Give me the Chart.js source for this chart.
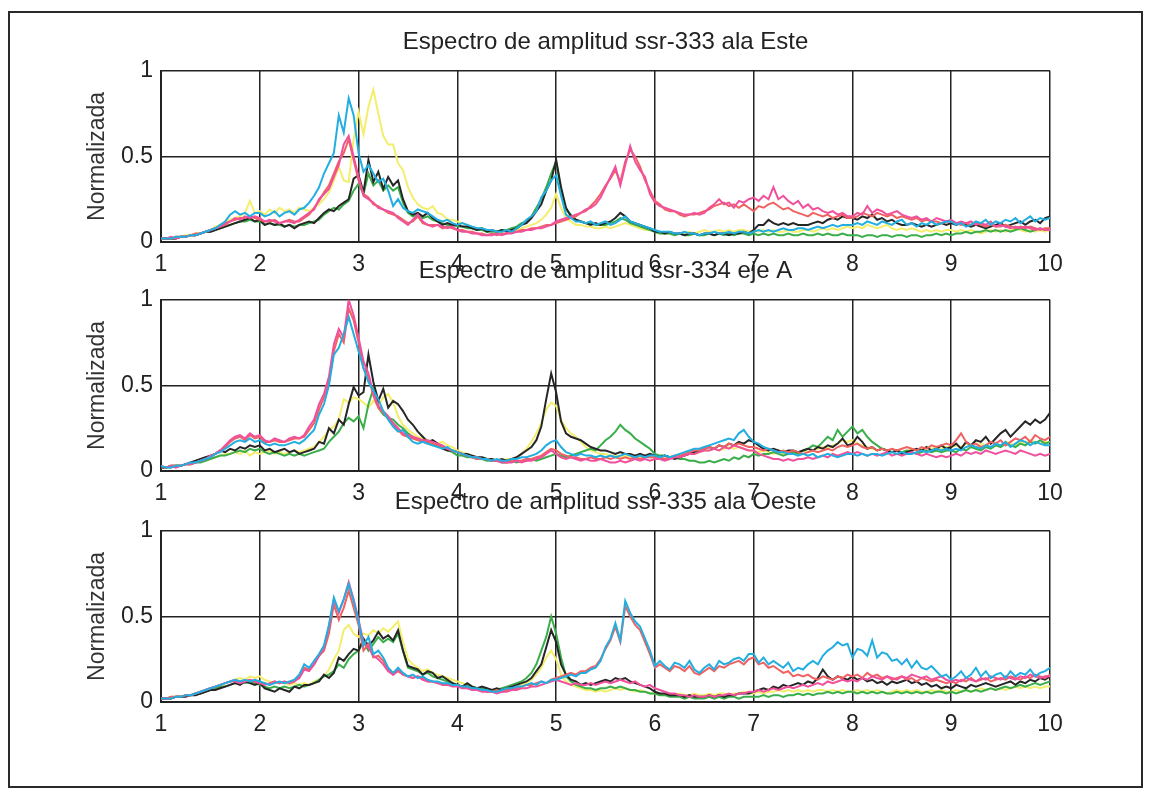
<!DOCTYPE html>
<html>
<head>
<meta charset="utf-8">
<script src="https://cdn.jsdelivr.net/npm/chart.js@4.4.1/dist/chart.umd.min.js"></script>
<style>
  html, body { margin: 0; padding: 0; background: #fff; }
  body { width: 1151px; height: 788px; position: relative; overflow: hidden; }
  #marco { position: absolute; left: 8px; top: 11px; width: 1135px; height: 777px; border: 2px solid #2a2a2a; box-sizing: border-box; }
  .panel { position: absolute; left: 0; }
</style>
</head>
<body>
<div id="marco"></div>
<canvas id="g1" class="panel" width="1151" height="254" style="top:28px"></canvas>
<canvas id="g2" class="panel" width="1151" height="254" style="top:257px"></canvas>
<canvas id="g3" class="panel" width="1151" height="254" style="top:488px"></canvas>
<script>
// frecuencias (Hz), de 1 a 10 cada 0.05
const freq = Array.from({ length: 181 }, (_, i) => Math.round((1 + i * 0.05) * 100) / 100);
const xTicks = [1, 2, 3, 4, 5, 6, 7, 8, 9, 10];
const yTicks = [0, 0.5, 1];

const titulos = [
  "Espectro de amplitud ssr-333 ala Este",
  "Espectro de amplitud ssr-334 eje A",
  "Espectro de amplitud ssr-335 ala Oeste",
];

// ---- ssr-333 ala Este ----
const p1Cyan = [
  0.02,0.02,0.02,0.03,0.03,0.03,0.04,0.04,0.05,0.06,0.07,0.08,0.10,0.12,0.16,0.18,0.16,0.17,0.15,0.17,
  0.17,0.15,0.16,0.18,0.15,0.17,0.18,0.16,0.19,0.20,0.23,0.27,0.32,0.40,0.46,0.52,0.74,0.64,0.84,0.74,
  0.52,0.41,0.45,0.40,0.35,0.37,0.30,0.21,0.25,0.20,0.18,0.17,0.19,0.18,0.17,0.15,0.13,0.12,0.13,0.11,
  0.10,0.11,0.10,0.09,0.08,0.08,0.07,0.07,0.06,0.06,0.07,0.06,0.08,0.10,0.13,0.15,0.18,0.26,0.30,0.36,
  0.39,0.27,0.16,0.14,0.12,0.12,0.11,0.12,0.10,0.11,0.12,0.10,0.11,0.13,0.15,0.12,0.11,0.10,0.09,0.08,
  0.07,0.06,0.06,0.06,0.05,0.05,0.06,0.05,0.05,0.04,0.05,0.05,0.06,0.05,0.05,0.06,0.05,0.06,0.06,0.05,
  0.06,0.07,0.06,0.07,0.06,0.07,0.08,0.07,0.07,0.08,0.08,0.07,0.08,0.09,0.08,0.09,0.10,0.09,0.10,0.10,
  0.10,0.11,0.10,0.12,0.11,0.10,0.12,0.11,0.10,0.12,0.13,0.10,0.11,0.09,0.11,0.10,0.12,0.10,0.11,0.12,
  0.12,0.10,0.11,0.09,0.10,0.12,0.11,0.13,0.10,0.12,0.11,0.13,0.12,0.14,0.11,0.13,0.15,0.12,0.14,0.13,
  0.14
];
const p1Pink = [
  0.02,0.02,0.03,0.02,0.03,0.03,0.04,0.04,0.05,0.06,0.07,0.08,0.09,0.11,0.12,0.14,0.13,0.15,0.14,0.15,
  0.14,0.12,0.13,0.12,0.11,0.12,0.12,0.11,0.13,0.15,0.17,0.19,0.25,0.28,0.31,0.38,0.45,0.57,0.62,0.50,
  0.38,0.27,0.25,0.23,0.20,0.19,0.18,0.17,0.14,0.12,0.10,0.13,0.16,0.12,0.10,0.09,0.10,0.09,0.08,0.09,
  0.07,0.06,0.06,0.05,0.05,0.04,0.04,0.04,0.05,0.04,0.05,0.05,0.06,0.06,0.07,0.07,0.08,0.08,0.09,0.10,
  0.12,0.13,0.14,0.15,0.16,0.17,0.19,0.20,0.22,0.26,0.32,0.38,0.44,0.33,0.45,0.56,0.47,0.42,0.38,0.28,
  0.23,0.21,0.20,0.19,0.18,0.17,0.16,0.16,0.17,0.16,0.17,0.20,0.22,0.25,0.22,0.23,0.20,0.24,0.23,0.25,
  0.26,0.24,0.27,0.25,0.32,0.25,0.27,0.24,0.22,0.24,0.20,0.22,0.19,0.20,0.18,0.17,0.18,0.16,0.17,0.15,
  0.15,0.17,0.16,0.21,0.17,0.19,0.18,0.16,0.17,0.18,0.16,0.15,0.14,0.15,0.13,0.14,0.12,0.14,0.13,0.12,
  0.13,0.11,0.12,0.11,0.12,0.10,0.11,0.10,0.12,0.09,0.10,0.09,0.08,0.09,0.08,0.09,0.08,0.07,0.08,0.07,
  0.07
];
const p1Red = [
  0.02,0.02,0.02,0.03,0.03,0.03,0.04,0.05,0.05,0.06,0.07,0.08,0.09,0.10,0.12,0.13,0.14,0.14,0.15,0.14,
  0.13,0.12,0.12,0.13,0.11,0.12,0.13,0.12,0.12,0.14,0.16,0.20,0.24,0.29,0.33,0.40,0.47,0.52,0.60,0.48,
  0.36,0.28,0.26,0.22,0.21,0.19,0.17,0.16,0.15,0.13,0.11,0.12,0.15,0.11,0.10,0.10,0.10,0.08,0.09,0.08,
  0.07,0.07,0.06,0.06,0.05,0.05,0.04,0.05,0.04,0.05,0.05,0.06,0.06,0.07,0.07,0.08,0.08,0.09,0.10,0.10,
  0.11,0.12,0.13,0.14,0.15,0.17,0.18,0.21,0.24,0.28,0.33,0.37,0.42,0.35,0.47,0.54,0.50,0.44,0.36,0.30,
  0.24,0.22,0.19,0.18,0.18,0.16,0.15,0.16,0.16,0.17,0.18,0.19,0.21,0.22,0.23,0.21,0.22,0.20,0.22,0.20,
  0.18,0.21,0.20,0.22,0.23,0.21,0.19,0.20,0.18,0.17,0.16,0.15,0.17,0.16,0.15,0.16,0.14,0.15,0.16,0.14,
  0.14,0.15,0.17,0.16,0.15,0.17,0.16,0.15,0.16,0.14,0.15,0.14,0.13,0.14,0.12,0.13,0.12,0.12,0.11,0.12,
  0.12,0.11,0.10,0.11,0.10,0.11,0.10,0.09,0.10,0.09,0.09,0.10,0.09,0.08,0.09,0.08,0.09,0.08,0.07,0.08,
  0.08
];
const p1Black = [
  0.02,0.02,0.02,0.02,0.03,0.03,0.04,0.04,0.05,0.06,0.06,0.07,0.08,0.09,0.10,0.11,0.12,0.13,0.14,0.12,
  0.13,0.10,0.11,0.10,0.11,0.09,0.10,0.08,0.10,0.11,0.12,0.11,0.14,0.17,0.19,0.18,0.21,0.23,0.25,0.37,
  0.39,0.29,0.48,0.35,0.41,0.31,0.38,0.33,0.36,0.25,0.18,0.16,0.17,0.15,0.17,0.14,0.12,0.10,0.11,0.10,
  0.10,0.09,0.09,0.08,0.07,0.08,0.06,0.07,0.06,0.07,0.06,0.07,0.08,0.10,0.11,0.14,0.18,0.22,0.30,0.36,
  0.48,0.32,0.20,0.15,0.13,0.12,0.11,0.10,0.11,0.10,0.11,0.12,0.14,0.17,0.15,0.12,0.11,0.10,0.09,0.08,
  0.06,0.06,0.05,0.06,0.05,0.05,0.04,0.05,0.05,0.04,0.05,0.05,0.04,0.05,0.05,0.04,0.05,0.05,0.06,0.05,
  0.07,0.10,0.10,0.13,0.11,0.10,0.11,0.10,0.11,0.10,0.10,0.10,0.11,0.12,0.11,0.13,0.14,0.13,0.15,0.14,
  0.14,0.13,0.15,0.14,0.16,0.13,0.14,0.12,0.13,0.11,0.10,0.10,0.11,0.10,0.09,0.10,0.09,0.10,0.11,0.10,
  0.11,0.10,0.11,0.10,0.09,0.10,0.09,0.08,0.09,0.10,0.11,0.09,0.10,0.11,0.12,0.10,0.12,0.13,0.11,0.14,
  0.15
];
const p1Green = [
  0.02,0.02,0.02,0.02,0.03,0.03,0.04,0.04,0.05,0.06,0.06,0.07,0.08,0.09,0.10,0.11,0.12,0.12,0.13,0.12,
  0.12,0.10,0.11,0.10,0.10,0.09,0.10,0.09,0.10,0.10,0.11,0.12,0.13,0.16,0.18,0.20,0.19,0.22,0.24,0.30,
  0.34,0.28,0.40,0.33,0.36,0.30,0.33,0.30,0.32,0.23,0.17,0.15,0.16,0.14,0.15,0.13,0.12,0.11,0.10,0.10,
  0.09,0.09,0.08,0.08,0.07,0.07,0.06,0.06,0.06,0.07,0.07,0.08,0.09,0.11,0.12,0.15,0.20,0.25,0.32,0.40,
  0.47,0.30,0.19,0.16,0.13,0.12,0.11,0.11,0.10,0.10,0.10,0.11,0.12,0.14,0.13,0.11,0.10,0.09,0.08,0.07,
  0.06,0.05,0.05,0.05,0.04,0.05,0.04,0.04,0.05,0.04,0.04,0.05,0.04,0.05,0.04,0.05,0.04,0.05,0.05,0.04,
  0.05,0.04,0.05,0.04,0.05,0.04,0.04,0.05,0.04,0.04,0.05,0.04,0.04,0.05,0.04,0.05,0.04,0.04,0.05,0.04,
  0.04,0.04,0.03,0.04,0.04,0.03,0.04,0.04,0.03,0.04,0.04,0.03,0.04,0.04,0.03,0.04,0.04,0.05,0.04,0.05,
  0.04,0.05,0.05,0.06,0.05,0.06,0.06,0.07,0.06,0.07,0.06,0.07,0.06,0.07,0.08,0.07,0.06,0.07,0.08,0.07,
  0.08
];
const p1Yellow = [
  0.02,0.02,0.02,0.03,0.03,0.04,0.04,0.05,0.05,0.06,0.07,0.09,0.10,0.12,0.13,0.14,0.15,0.17,0.24,0.17,
  0.18,0.16,0.19,0.17,0.20,0.18,0.19,0.17,0.20,0.19,0.18,0.20,0.22,0.25,0.29,0.36,0.44,0.36,0.35,0.60,
  0.76,0.63,0.79,0.89,0.75,0.62,0.57,0.57,0.46,0.42,0.32,0.26,0.22,0.20,0.19,0.21,0.17,0.16,0.13,0.13,
  0.12,0.11,0.10,0.09,0.08,0.08,0.07,0.07,0.06,0.06,0.07,0.06,0.07,0.08,0.09,0.10,0.11,0.13,0.16,0.20,
  0.28,0.20,0.14,0.12,0.10,0.10,0.09,0.09,0.08,0.08,0.09,0.08,0.09,0.10,0.11,0.10,0.09,0.08,0.07,0.07,
  0.06,0.05,0.05,0.05,0.04,0.05,0.05,0.06,0.05,0.06,0.07,0.06,0.06,0.07,0.06,0.07,0.06,0.07,0.07,0.06,
  0.07,0.06,0.07,0.06,0.07,0.06,0.06,0.07,0.06,0.06,0.07,0.07,0.06,0.07,0.08,0.07,0.08,0.07,0.08,0.09,
  0.08,0.09,0.08,0.10,0.09,0.08,0.09,0.10,0.08,0.07,0.08,0.07,0.08,0.07,0.06,0.07,0.06,0.07,0.06,0.07,
  0.07,0.06,0.07,0.06,0.07,0.06,0.05,0.06,0.07,0.06,0.07,0.06,0.07,0.08,0.07,0.06,0.07,0.06,0.07,0.06,
  0.07
];

// ---- ssr-334 eje A ----
const p2Cyan = [
  0.03,0.02,0.02,0.03,0.03,0.04,0.05,0.05,0.06,0.07,0.08,0.10,0.11,0.13,0.15,0.17,0.18,0.17,0.19,0.17,
  0.18,0.16,0.15,0.16,0.15,0.15,0.16,0.17,0.16,0.18,0.21,0.24,0.33,0.39,0.50,0.68,0.72,0.80,0.90,0.80,
  0.70,0.60,0.52,0.47,0.42,0.35,0.30,0.26,0.23,0.24,0.20,0.17,0.16,0.17,0.16,0.15,0.14,0.13,0.14,0.12,
  0.11,0.10,0.09,0.08,0.08,0.07,0.07,0.06,0.07,0.06,0.06,0.07,0.07,0.08,0.08,0.09,0.10,0.12,0.15,0.17,
  0.18,0.14,0.11,0.10,0.09,0.10,0.09,0.09,0.08,0.09,0.08,0.09,0.08,0.09,0.10,0.09,0.08,0.09,0.08,0.09,
  0.09,0.08,0.09,0.08,0.09,0.10,0.11,0.12,0.13,0.13,0.14,0.15,0.16,0.17,0.18,0.19,0.18,0.22,0.24,0.20,
  0.17,0.16,0.14,0.13,0.12,0.11,0.11,0.10,0.10,0.09,0.10,0.09,0.10,0.08,0.09,0.10,0.09,0.08,0.09,0.10,
  0.10,0.09,0.10,0.09,0.10,0.10,0.09,0.10,0.11,0.10,0.11,0.10,0.10,0.11,0.12,0.11,0.12,0.13,0.12,0.13,
  0.12,0.13,0.12,0.14,0.15,0.14,0.13,0.15,0.14,0.16,0.15,0.17,0.14,0.16,0.18,0.17,0.15,0.17,0.16,0.15,
  0.15
];
const p2Pink = [
  0.03,0.02,0.03,0.02,0.03,0.04,0.04,0.05,0.06,0.07,0.09,0.10,0.12,0.15,0.18,0.20,0.21,0.19,0.22,0.20,
  0.21,0.18,0.17,0.19,0.18,0.17,0.19,0.20,0.19,0.21,0.26,0.30,0.39,0.45,0.55,0.74,0.83,0.78,1.00,0.91,
  0.78,0.64,0.57,0.45,0.38,0.35,0.32,0.28,0.25,0.22,0.21,0.20,0.19,0.18,0.18,0.17,0.16,0.15,0.13,0.12,
  0.11,0.10,0.09,0.08,0.08,0.07,0.07,0.06,0.06,0.05,0.05,0.05,0.06,0.05,0.06,0.06,0.07,0.08,0.10,0.12,
  0.10,0.08,0.07,0.08,0.07,0.06,0.07,0.06,0.06,0.07,0.06,0.05,0.05,0.06,0.05,0.06,0.07,0.06,0.07,0.06,
  0.07,0.07,0.06,0.07,0.08,0.08,0.09,0.10,0.10,0.11,0.12,0.12,0.13,0.12,0.14,0.13,0.15,0.14,0.13,0.12,
  0.12,0.10,0.09,0.08,0.07,0.07,0.06,0.07,0.06,0.07,0.07,0.08,0.07,0.08,0.09,0.08,0.10,0.09,0.10,0.11,
  0.10,0.11,0.10,0.09,0.10,0.09,0.10,0.11,0.09,0.10,0.09,0.10,0.11,0.10,0.09,0.10,0.09,0.08,0.09,0.08,
  0.09,0.10,0.09,0.11,0.10,0.11,0.10,0.12,0.11,0.10,0.11,0.12,0.11,0.10,0.12,0.11,0.10,0.09,0.10,0.09,
  0.10
];
const p2Red = [
  0.03,0.02,0.03,0.03,0.03,0.04,0.04,0.05,0.06,0.07,0.08,0.10,0.12,0.14,0.17,0.19,0.20,0.18,0.21,0.19,
  0.20,0.17,0.17,0.18,0.17,0.17,0.18,0.19,0.19,0.20,0.24,0.28,0.36,0.43,0.52,0.70,0.80,0.75,0.95,0.88,
  0.75,0.60,0.55,0.44,0.37,0.34,0.31,0.27,0.24,0.21,0.20,0.19,0.18,0.18,0.17,0.16,0.15,0.14,0.13,0.12,
  0.11,0.10,0.09,0.08,0.07,0.07,0.07,0.06,0.06,0.06,0.05,0.06,0.06,0.06,0.07,0.07,0.08,0.09,0.11,0.13,
  0.12,0.10,0.09,0.08,0.08,0.07,0.07,0.08,0.07,0.07,0.08,0.07,0.08,0.07,0.08,0.07,0.08,0.07,0.08,0.08,
  0.08,0.08,0.07,0.08,0.09,0.09,0.10,0.11,0.12,0.12,0.13,0.14,0.13,0.15,0.14,0.16,0.15,0.16,0.15,0.14,
  0.14,0.13,0.12,0.13,0.12,0.11,0.12,0.11,0.12,0.11,0.10,0.11,0.12,0.11,0.12,0.13,0.12,0.14,0.15,0.14,
  0.15,0.16,0.14,0.13,0.14,0.12,0.13,0.12,0.13,0.12,0.13,0.14,0.13,0.12,0.14,0.13,0.15,0.14,0.15,0.16,
  0.15,0.18,0.22,0.17,0.15,0.16,0.14,0.15,0.17,0.16,0.18,0.15,0.17,0.19,0.18,0.20,0.17,0.21,0.19,0.18,
  0.20
];
const p2Black = [
  0.02,0.02,0.03,0.03,0.03,0.04,0.05,0.06,0.07,0.08,0.09,0.10,0.12,0.11,0.13,0.12,0.14,0.13,0.15,0.14,
  0.15,0.12,0.13,0.11,0.12,0.13,0.11,0.12,0.10,0.11,0.12,0.13,0.17,0.16,0.25,0.22,0.30,0.27,0.39,0.49,
  0.44,0.46,0.68,0.52,0.41,0.48,0.37,0.41,0.39,0.35,0.30,0.27,0.23,0.20,0.17,0.18,0.16,0.13,0.12,0.12,
  0.11,0.10,0.10,0.09,0.08,0.08,0.07,0.07,0.06,0.07,0.06,0.07,0.08,0.10,0.12,0.14,0.18,0.26,0.42,0.57,
  0.46,0.29,0.22,0.20,0.19,0.18,0.16,0.14,0.13,0.12,0.12,0.11,0.10,0.11,0.10,0.10,0.09,0.10,0.09,0.10,
  0.09,0.08,0.09,0.08,0.07,0.08,0.09,0.10,0.11,0.12,0.13,0.14,0.13,0.15,0.14,0.16,0.15,0.17,0.16,0.18,
  0.17,0.15,0.13,0.12,0.13,0.12,0.11,0.12,0.12,0.11,0.12,0.13,0.12,0.14,0.13,0.15,0.14,0.16,0.19,0.15,
  0.16,0.20,0.17,0.13,0.14,0.12,0.13,0.12,0.11,0.12,0.10,0.11,0.12,0.13,0.12,0.14,0.12,0.13,0.15,0.13,
  0.14,0.16,0.13,0.17,0.15,0.18,0.17,0.20,0.16,0.19,0.22,0.24,0.20,0.23,0.26,0.29,0.27,0.30,0.28,0.30,
  0.34
];
const p2Green = [
  0.02,0.02,0.02,0.03,0.03,0.04,0.04,0.05,0.05,0.06,0.07,0.08,0.09,0.09,0.10,0.11,0.12,0.11,0.13,0.12,
  0.13,0.11,0.10,0.11,0.10,0.09,0.10,0.09,0.10,0.09,0.10,0.11,0.12,0.13,0.17,0.20,0.23,0.28,0.31,0.29,
  0.32,0.25,0.39,0.48,0.37,0.33,0.31,0.30,0.27,0.25,0.22,0.20,0.18,0.17,0.16,0.15,0.15,0.14,0.12,0.11,
  0.09,0.09,0.08,0.08,0.07,0.07,0.06,0.06,0.06,0.05,0.05,0.06,0.05,0.06,0.06,0.07,0.06,0.07,0.08,0.09,
  0.10,0.09,0.08,0.09,0.10,0.11,0.12,0.13,0.12,0.15,0.18,0.20,0.23,0.27,0.24,0.22,0.19,0.17,0.15,0.13,
  0.10,0.09,0.09,0.08,0.08,0.07,0.07,0.06,0.06,0.05,0.05,0.06,0.05,0.06,0.07,0.06,0.08,0.07,0.09,0.08,
  0.10,0.09,0.10,0.10,0.11,0.10,0.09,0.10,0.11,0.10,0.12,0.13,0.15,0.14,0.17,0.20,0.18,0.24,0.20,0.23,
  0.26,0.22,0.24,0.20,0.17,0.15,0.13,0.12,0.11,0.12,0.11,0.12,0.11,0.10,0.11,0.12,0.11,0.12,0.11,0.12,
  0.12,0.11,0.13,0.12,0.14,0.13,0.12,0.14,0.13,0.15,0.14,0.16,0.15,0.14,0.16,0.15,0.17,0.16,0.18,0.16,
  0.17
];
const p2Yellow = [
  0.02,0.02,0.03,0.03,0.03,0.04,0.04,0.05,0.06,0.06,0.07,0.08,0.09,0.10,0.10,0.11,0.10,0.12,0.09,0.11,
  0.10,0.11,0.12,0.10,0.11,0.10,0.11,0.12,0.11,0.12,0.13,0.14,0.17,0.20,0.24,0.26,0.30,0.42,0.40,0.43,
  0.42,0.40,0.37,0.41,0.38,0.43,0.45,0.40,0.32,0.27,0.24,0.22,0.20,0.19,0.18,0.17,0.16,0.17,0.15,0.14,
  0.12,0.11,0.10,0.09,0.08,0.08,0.07,0.07,0.06,0.06,0.07,0.07,0.08,0.10,0.13,0.17,0.22,0.28,0.36,0.40,
  0.38,0.30,0.25,0.22,0.20,0.17,0.14,0.12,0.11,0.10,0.10,0.09,0.09,0.08,0.09,0.08,0.09,0.08,0.09,0.08,
  0.08,0.08,0.07,0.08,0.08,0.09,0.09,0.10,0.10,0.11,0.12,0.12,0.13,0.12,0.13,0.14,0.13,0.14,0.13,0.12,
  0.12,0.11,0.12,0.11,0.10,0.11,0.10,0.11,0.10,0.11,0.12,0.11,0.12,0.13,0.14,0.13,0.15,0.16,0.18,0.17,
  0.18,0.16,0.15,0.14,0.13,0.12,0.13,0.12,0.11,0.12,0.11,0.12,0.13,0.12,0.13,0.14,0.13,0.14,0.13,0.14,
  0.14,0.15,0.14,0.16,0.15,0.14,0.16,0.15,0.17,0.16,0.15,0.17,0.16,0.15,0.17,0.16,0.18,0.17,0.16,0.17,
  0.17
];

// ---- ssr-335 ala Oeste ----
const p3Cyan = [
  0.02,0.02,0.02,0.03,0.03,0.04,0.04,0.05,0.06,0.07,0.08,0.09,0.10,0.11,0.12,0.13,0.12,0.13,0.12,0.13,
  0.12,0.11,0.10,0.11,0.12,0.11,0.12,0.13,0.16,0.22,0.20,0.24,0.28,0.33,0.45,0.61,0.53,0.60,0.69,0.59,
  0.47,0.33,0.38,0.28,0.30,0.26,0.20,0.17,0.20,0.17,0.15,0.16,0.14,0.15,0.13,0.12,0.12,0.11,0.11,0.10,
  0.10,0.09,0.09,0.08,0.08,0.07,0.07,0.06,0.06,0.07,0.08,0.08,0.09,0.09,0.10,0.11,0.10,0.12,0.11,0.13,
  0.13,0.14,0.15,0.16,0.15,0.17,0.17,0.19,0.20,0.24,0.32,0.37,0.46,0.36,0.59,0.52,0.47,0.44,0.37,0.30,
  0.21,0.24,0.21,0.19,0.23,0.22,0.20,0.24,0.19,0.17,0.20,0.22,0.19,0.24,0.22,0.23,0.25,0.26,0.24,0.28,
  0.28,0.23,0.26,0.22,0.24,0.22,0.20,0.23,0.18,0.20,0.19,0.22,0.24,0.22,0.27,0.30,0.32,0.35,0.33,0.34,
  0.26,0.31,0.30,0.27,0.36,0.26,0.29,0.28,0.24,0.25,0.22,0.25,0.20,0.24,0.20,0.19,0.21,0.18,0.15,0.16,
  0.13,0.15,0.18,0.14,0.16,0.20,0.15,0.18,0.14,0.16,0.17,0.14,0.18,0.15,0.17,0.16,0.19,0.15,0.17,0.18,
  0.20
];
const p3Pink = [
  0.02,0.02,0.02,0.03,0.03,0.04,0.04,0.05,0.06,0.07,0.08,0.09,0.10,0.11,0.12,0.12,0.11,0.12,0.13,0.12,
  0.11,0.10,0.11,0.12,0.11,0.12,0.11,0.12,0.14,0.19,0.18,0.22,0.27,0.32,0.44,0.60,0.52,0.60,0.70,0.60,
  0.48,0.35,0.32,0.27,0.25,0.22,0.18,0.16,0.19,0.16,0.15,0.14,0.15,0.13,0.12,0.12,0.11,0.10,0.10,0.09,
  0.09,0.08,0.08,0.07,0.07,0.06,0.06,0.06,0.05,0.06,0.06,0.07,0.07,0.08,0.08,0.09,0.09,0.10,0.11,0.12,
  0.13,0.12,0.11,0.10,0.11,0.10,0.10,0.11,0.10,0.11,0.12,0.11,0.12,0.13,0.12,0.11,0.12,0.10,0.09,0.10,
  0.08,0.07,0.06,0.05,0.05,0.04,0.04,0.03,0.04,0.03,0.03,0.04,0.03,0.04,0.04,0.05,0.04,0.05,0.05,0.06,
  0.06,0.07,0.06,0.07,0.08,0.07,0.08,0.09,0.08,0.09,0.10,0.09,0.10,0.11,0.10,0.12,0.11,0.12,0.13,0.12,
  0.13,0.12,0.14,0.13,0.15,0.14,0.13,0.15,0.14,0.13,0.15,0.14,0.16,0.15,0.14,0.15,0.13,0.14,0.15,0.13,
  0.12,0.13,0.12,0.14,0.13,0.12,0.14,0.13,0.15,0.14,0.13,0.15,0.14,0.13,0.15,0.14,0.16,0.15,0.14,0.15,
  0.15
];
const p3Red = [
  0.02,0.02,0.03,0.03,0.03,0.04,0.04,0.05,0.06,0.07,0.08,0.09,0.10,0.11,0.12,0.13,0.12,0.12,0.13,0.12,
  0.11,0.11,0.10,0.12,0.11,0.12,0.11,0.12,0.15,0.20,0.19,0.22,0.27,0.30,0.40,0.57,0.48,0.55,0.65,0.55,
  0.45,0.30,0.34,0.26,0.27,0.24,0.19,0.16,0.18,0.16,0.15,0.14,0.15,0.14,0.12,0.12,0.11,0.11,0.10,0.10,
  0.10,0.09,0.08,0.08,0.07,0.07,0.06,0.06,0.07,0.06,0.07,0.08,0.08,0.09,0.10,0.10,0.11,0.12,0.11,0.13,
  0.14,0.15,0.16,0.17,0.16,0.18,0.18,0.20,0.21,0.25,0.31,0.36,0.44,0.35,0.56,0.50,0.45,0.42,0.35,0.28,
  0.20,0.22,0.20,0.18,0.21,0.20,0.18,0.21,0.17,0.16,0.18,0.20,0.18,0.21,0.20,0.22,0.23,0.24,0.22,0.25,
  0.26,0.22,0.23,0.20,0.21,0.19,0.17,0.18,0.15,0.16,0.15,0.16,0.14,0.13,0.15,0.14,0.13,0.15,0.14,0.16,
  0.15,0.16,0.14,0.17,0.15,0.16,0.14,0.15,0.13,0.14,0.15,0.13,0.14,0.12,0.14,0.13,0.12,0.13,0.12,0.11,
  0.12,0.11,0.13,0.12,0.14,0.12,0.13,0.14,0.12,0.13,0.14,0.13,0.15,0.14,0.13,0.15,0.14,0.16,0.15,0.14,
  0.16
];
const p3Black = [
  0.02,0.02,0.02,0.03,0.03,0.03,0.04,0.04,0.05,0.06,0.07,0.07,0.08,0.09,0.10,0.11,0.10,0.12,0.11,0.10,
  0.11,0.08,0.07,0.06,0.08,0.07,0.06,0.09,0.08,0.10,0.10,0.11,0.12,0.16,0.14,0.17,0.26,0.24,0.28,0.31,
  0.30,0.37,0.33,0.36,0.41,0.37,0.39,0.36,0.42,0.30,0.21,0.20,0.19,0.16,0.18,0.17,0.14,0.15,0.13,0.11,
  0.10,0.09,0.11,0.09,0.08,0.09,0.08,0.07,0.08,0.07,0.08,0.09,0.10,0.11,0.12,0.14,0.18,0.22,0.32,0.42,
  0.35,0.22,0.16,0.13,0.12,0.10,0.11,0.10,0.11,0.12,0.13,0.12,0.14,0.13,0.14,0.12,0.11,0.10,0.09,0.08,
  0.06,0.05,0.05,0.04,0.04,0.04,0.03,0.04,0.03,0.03,0.03,0.04,0.03,0.04,0.03,0.04,0.04,0.05,0.05,0.05,
  0.06,0.07,0.08,0.07,0.09,0.08,0.10,0.09,0.10,0.11,0.10,0.12,0.11,0.14,0.19,0.15,0.13,0.15,0.14,0.13,
  0.15,0.13,0.14,0.12,0.13,0.11,0.12,0.10,0.12,0.11,0.12,0.13,0.11,0.12,0.10,0.11,0.09,0.10,0.08,0.09,
  0.08,0.10,0.09,0.08,0.10,0.09,0.10,0.11,0.10,0.09,0.10,0.11,0.12,0.10,0.12,0.11,0.13,0.12,0.14,0.13,
  0.15
];
const p3Green = [
  0.02,0.02,0.02,0.03,0.03,0.04,0.04,0.05,0.05,0.06,0.07,0.08,0.09,0.09,0.10,0.11,0.12,0.11,0.12,0.11,
  0.10,0.09,0.08,0.09,0.08,0.09,0.08,0.09,0.10,0.09,0.10,0.11,0.13,0.15,0.16,0.18,0.22,0.20,0.25,0.28,
  0.30,0.35,0.30,0.34,0.38,0.35,0.37,0.35,0.40,0.30,0.20,0.19,0.18,0.16,0.17,0.15,0.14,0.13,0.12,0.11,
  0.10,0.09,0.10,0.09,0.08,0.08,0.07,0.07,0.07,0.08,0.09,0.10,0.11,0.12,0.14,0.17,0.22,0.30,0.38,0.50,
  0.40,0.26,0.15,0.12,0.10,0.09,0.08,0.08,0.07,0.08,0.08,0.09,0.08,0.09,0.08,0.07,0.07,0.06,0.06,0.05,
  0.05,0.04,0.04,0.03,0.03,0.03,0.02,0.03,0.02,0.02,0.02,0.03,0.02,0.03,0.02,0.03,0.03,0.02,0.03,0.03,
  0.03,0.03,0.04,0.03,0.04,0.04,0.03,0.04,0.04,0.05,0.04,0.05,0.04,0.05,0.05,0.06,0.05,0.06,0.05,0.06,
  0.06,0.05,0.06,0.05,0.06,0.05,0.06,0.05,0.05,0.06,0.05,0.06,0.05,0.06,0.05,0.06,0.05,0.06,0.06,0.05,
  0.06,0.05,0.06,0.07,0.06,0.07,0.06,0.07,0.08,0.07,0.08,0.09,0.08,0.09,0.10,0.09,0.10,0.11,0.10,0.11,
  0.12
];
const p3Yellow = [
  0.02,0.02,0.03,0.03,0.03,0.04,0.04,0.05,0.06,0.07,0.08,0.09,0.10,0.11,0.12,0.13,0.14,0.13,0.15,0.14,
  0.15,0.13,0.12,0.11,0.12,0.11,0.10,0.11,0.10,0.11,0.10,0.12,0.13,0.15,0.19,0.25,0.30,0.42,0.45,0.40,
  0.38,0.40,0.39,0.42,0.40,0.43,0.41,0.44,0.47,0.35,0.25,0.22,0.20,0.18,0.19,0.17,0.16,0.15,0.14,0.13,
  0.12,0.11,0.10,0.09,0.08,0.08,0.07,0.07,0.06,0.07,0.07,0.08,0.09,0.10,0.11,0.13,0.16,0.20,0.26,0.30,
  0.25,0.16,0.12,0.10,0.09,0.08,0.07,0.07,0.06,0.07,0.06,0.07,0.08,0.07,0.08,0.07,0.06,0.07,0.06,0.05,
  0.05,0.05,0.04,0.05,0.04,0.05,0.04,0.04,0.05,0.04,0.04,0.05,0.04,0.05,0.05,0.04,0.05,0.05,0.06,0.05,
  0.05,0.06,0.05,0.06,0.06,0.07,0.06,0.07,0.06,0.07,0.06,0.07,0.06,0.07,0.07,0.06,0.07,0.06,0.07,0.06,
  0.06,0.07,0.06,0.07,0.06,0.07,0.06,0.05,0.06,0.07,0.06,0.07,0.06,0.07,0.06,0.06,0.07,0.06,0.07,0.06,
  0.06,0.07,0.06,0.07,0.06,0.07,0.08,0.07,0.08,0.07,0.08,0.07,0.08,0.09,0.08,0.09,0.08,0.09,0.08,0.09,
  0.09
];

// colores de la figura escaneada
const colores = {
  cian: "#22aee0",
  rosa: "#f0509c",
  rojo: "#f06262",
  negro: "#262626",
  verde: "#3aae4a",
  amarillo: "#f3ee6c",
};

const fuente = "'Liberation Sans', Arial, Helvetica, sans-serif";

function crearGrafico(id, titulo, series) {
  // el primer dataset queda dibujado encima
  const datasets = series.map(([valores, color]) => ({
    data: valores.map((v, i) => ({ x: freq[i], y: v })),
    borderColor: color,
    borderWidth: 2,
    pointRadius: 0,
    fill: false,
  }));

  return new Chart(document.getElementById(id), {
    type: "line",
    data: { datasets: datasets },
    options: {
      responsive: false,
      animation: false,
      layout: { padding: { left: 0, right: 101, top: 0, bottom: 0 } },
      plugins: {
        legend: { display: false },
        tooltip: { enabled: false },
        title: {
          display: true,
          text: titulo,
          fullSize: false,
          color: "#222",
          font: { family: fuente, size: 24, weight: "normal" },
          padding: { top: 0, bottom: 14 },
        },
      },
      scales: {
        x: {
          type: "linear",
          min: 1,
          max: 10,
          afterBuildTicks: (s) => { s.ticks = xTicks.map((v) => ({ value: v })); },
          afterFit: (s) => { s.height = 40; },
          ticks: {
            color: "#222",
            font: { family: fuente, size: 23 },
            padding: 9,
            maxRotation: 0,
            autoSkip: false,
          },
          grid: { color: "#222", lineWidth: 1.5, drawTicks: false },
          border: { display: true, color: "#222", width: 2 },
        },
        y: {
          min: 0,
          max: 1,
          afterBuildTicks: (s) => { s.ticks = yTicks.map((v) => ({ value: v })); },
          afterFit: (s) => { s.width = 161; },
          ticks: {
            color: "#222",
            font: { family: fuente, size: 23 },
            padding: 8,
            callback: (v) => String(v),
          },
          grid: { color: "#222", lineWidth: 1.5, drawTicks: false },
          border: { display: true, color: "#222", width: 2 },
          title: {
            display: true,
            text: "Normalizada",
            color: "#333",
            font: { family: fuente, size: 23 },
            padding: { top: 84, bottom: 0 },
          },
        },
      },
    },
  });
}

crearGrafico("g1", titulos[0], [
  [p1Cyan, colores.cian], [p1Pink, colores.rosa], [p1Red, colores.rojo],
  [p1Black, colores.negro], [p1Green, colores.verde], [p1Yellow, colores.amarillo],
]);
crearGrafico("g2", titulos[1], [
  [p2Cyan, colores.cian], [p2Pink, colores.rosa], [p2Red, colores.rojo],
  [p2Black, colores.negro], [p2Green, colores.verde], [p2Yellow, colores.amarillo],
]);
crearGrafico("g3", titulos[2], [
  [p3Cyan, colores.cian], [p3Pink, colores.rosa], [p3Red, colores.rojo],
  [p3Black, colores.negro], [p3Green, colores.verde], [p3Yellow, colores.amarillo],
]);
</script>
</body>
</html>
